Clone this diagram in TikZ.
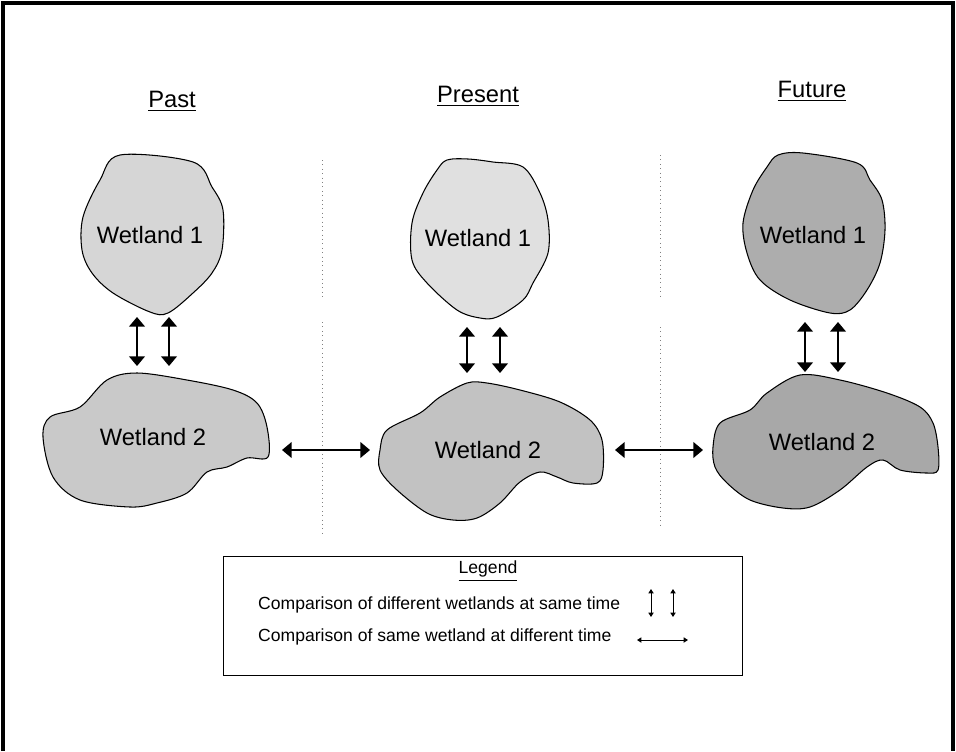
\documentclass[tikz,border=0pt]{standalone}
\usepackage{fontspec}
\setmainfont{Liberation Sans}
\usetikzlibrary{arrows.meta}

\definecolor{pastone}{gray}{0.84}
\definecolor{pasttwo}{gray}{0.79}
\definecolor{presone}{gray}{0.88}
\definecolor{prestwo}{gray}{0.76}
\definecolor{futone}{gray}{0.68}
\definecolor{futtwo}{gray}{0.66}

\begin{document}
\begin{tikzpicture} [x=0.02cm, y=-0.02cm,
    blob/.style = {draw, line width=0.6pt, smooth cycle, tension=0.55},
    wlabel/.style = {font=\fontsize{13.5}{16}\selectfont},
    era/.style = {font=\fontsize{13.5}{16}\selectfont},
    legtext/.style = {font=\fontsize{10}{12}\selectfont, anchor=west},
    cmp/.style = {{Triangle[length=5.5pt,width=9pt]}-{Triangle[length=5.5pt,width=9pt]}, line width=0.8pt},
    cmpsmall/.style = {{Triangle[length=2.5pt,width=3pt]}-{Triangle[length=2.5pt,width=3pt]}, line width=0.5pt},
    divider/.style = {dotted, gray, line width=0.5pt}]

\useasboundingbox (0,0) rectangle (956,751);

% frame
\draw [line width=2.8pt] (3,751) -- (3,3) -- (953,3) -- (953,751);

% time columns
\node (past) [era] at (172,101) {\underline{Past}};
\node (present) [era] at (478,96) {\underline{Present}};
\node (future) [era] at (812,91) {\underline{Future}};

\draw [divider] (322,160) -- (322,300);
\draw [divider] (322,322) -- (322,533);
\draw [divider] (660,155) -- (660,297);
\draw [divider] (660,327) -- (660,525);

% wetlands
\draw [blob, fill=pastone] plot coordinates {(120,155) (193,162) (212,187) (223,210) (222,250) (212,273) (193,293) (168,313) (150,312) (113,293) (92,273) (82,250) (83,217) (100,180)};
\draw [blob, fill=pasttwo] plot coordinates {(43,437) (50,417) (80,407) (107,380) (137,373) (187,380) (233,390) (257,403) (267,427) (268,457) (247,458) (227,467) (207,472) (187,493) (157,503) (130,507) (80,500) (53,477)};
\draw [blob, fill=presone] plot coordinates {(447,160) (468,159) (493,162) (523,167) (540,193) (548,220) (548,253) (533,283) (523,300) (497,317) (480,318) (457,310) (427,283) (412,260) (412,223) (423,193) (437,170)};
\draw [blob, fill=prestwo] plot coordinates {(380,450) (387,430) (420,413) (440,397) (467,383) (487,383) (520,390) (560,402) (590,420) (602,440) (603,470) (597,483) (573,483) (557,477) (540,472) (520,482) (500,503) (477,518) (453,520) (427,513) (397,490) (380,470)};
\draw [blob, fill=futone] plot coordinates {(778,155) (803,153) (857,163) (870,180) (882,200) (885,230) (880,263) (867,290) (850,310) (830,313) (790,300) (760,280) (747,253) (743,223) (753,190) (767,167)};
\draw [blob, fill=futtwo] plot coordinates {(713,447) (720,423) (750,410) (767,393) (800,375) (840,380) (887,393) (920,407) (933,423) (938,447) (938,470) (927,473) (900,470) (883,460) (867,467) (840,490) (810,507) (783,508) (750,500) (727,483) (715,467)};

\node (pastW1) [wlabel] at (150,235) {Wetland 1};
\node (pastW2) [wlabel] at (153,437) {Wetland 2};
\node (presW1) [wlabel] at (478,238) {Wetland 1};
\node (presW2) [wlabel] at (488,450) {Wetland 2};
\node (futW1) [wlabel] at (813,235) {Wetland 1};
\node (futW2) [wlabel] at (822,442) {Wetland 2};

% arrow ends
\coordinate (pastA1) at (137,317);  \coordinate (pastB1) at (137,366);
\coordinate (pastA2) at (169,317);  \coordinate (pastB2) at (169,366);
\coordinate (presA1) at (467,327);  \coordinate (presB1) at (467,373);
\coordinate (presA2) at (500,327);  \coordinate (presB2) at (500,373);
\coordinate (futA1) at (805,322);   \coordinate (futB1) at (805,372);
\coordinate (futA2) at (838,322);   \coordinate (futB2) at (838,372);
\coordinate (pastR) at (282,450);   \coordinate (presL) at (370,450);
\coordinate (presR) at (615,450);   \coordinate (futL) at (703,450);

\path [cmp] (pastA1) edge (pastB1) (pastA2) edge (pastB2);
\path [cmp] (presA1) edge (presB1) (presA2) edge (presB2);
\path [cmp] (futA1) edge (futB1) (futA2) edge (futB2);
\path [cmp] (pastR) edge (presL);
\path [cmp] (presR) edge (futL);

% legend
\node (legbox) [draw, line width=0.8pt, minimum width=519*0.02cm, minimum height=119*0.02cm, anchor=north west] at (223,556) {};
\node (legtitle) [font=\fontsize{10}{12}\selectfont] at (488,571) {\underline{Legend}};
\node (legsame) [legtext] at (252,605) {Comparison of different wetlands at same time};
\node (legdiff) [legtext] at (252,637) {Comparison of same wetland at different time};

\coordinate (legA1) at (651,589); \coordinate (legB1) at (651,617);
\coordinate (legA2) at (673,589); \coordinate (legB2) at (673,617);
\coordinate (legL) at (637,640);  \coordinate (legR) at (688,640);
\path [cmpsmall] (legA1) edge (legB1) (legA2) edge (legB2);
\path [cmpsmall] (legL) edge (legR);
\end{tikzpicture}
\end{document}
